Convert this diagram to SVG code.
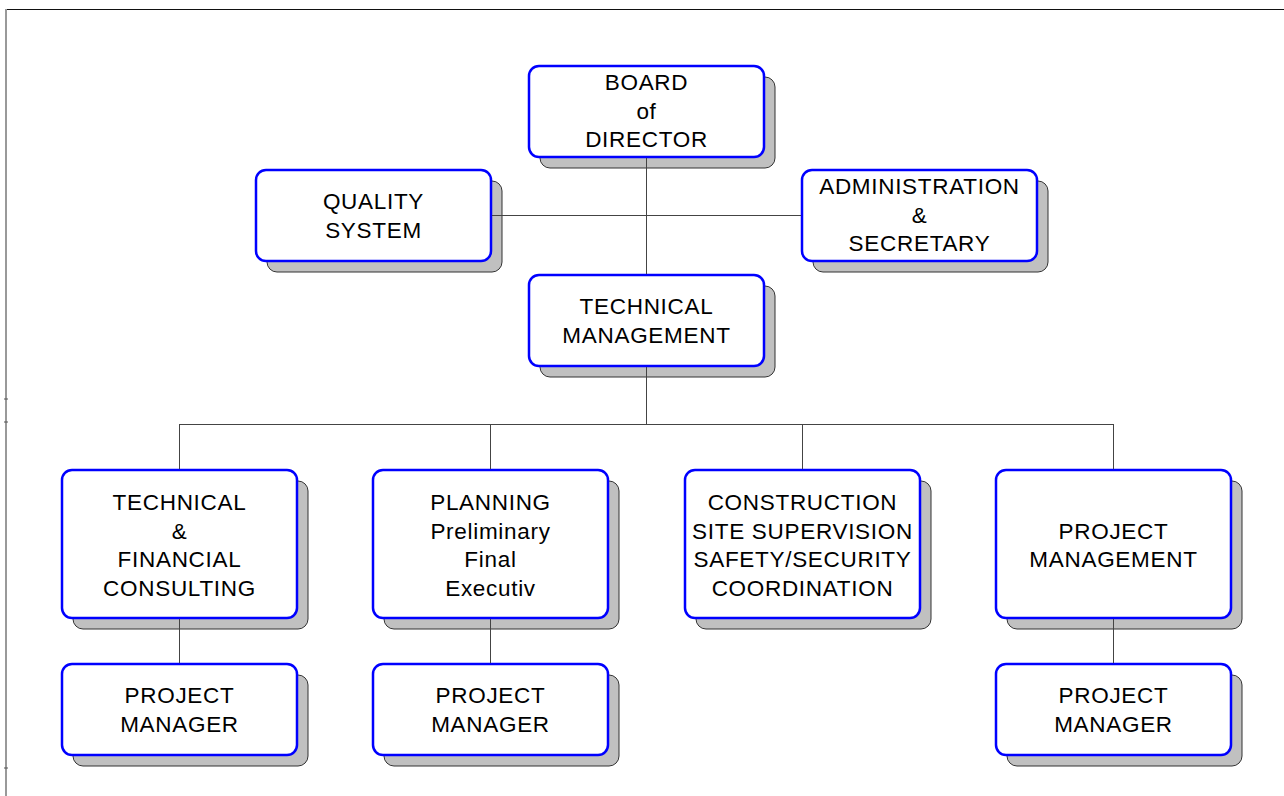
<svg xmlns="http://www.w3.org/2000/svg" width="1284" height="796" viewBox="0 0 1284 796">
<style>
.sh{fill:#c0c0c0;stroke:#333;stroke-width:1}
.bx{fill:#fff;stroke:#0000ff;stroke-width:2.5}
.t{font-family:"Liberation Sans",Arial,sans-serif;font-size:22.5px;letter-spacing:0.7px;fill:#000;text-anchor:middle}
.c{stroke:#444;stroke-width:1;fill:none}
</style>
<rect width="1284" height="796" fill="#fff"/>
<g id="frame">
<line x1="5" y1="9.5" x2="1284" y2="9.5" stroke="#111" stroke-width="1.2"/>
<line x1="6" y1="9" x2="6" y2="796" stroke="#999" stroke-width="2"/>
<line x1="4" y1="399" x2="8" y2="399" stroke="#555"/>
<line x1="4" y1="422" x2="8" y2="422" stroke="#555"/>
<line x1="4" y1="768" x2="8" y2="768" stroke="#555"/>
</g>
<g id="n-board"><rect class="sh" x="540" y="77" width="235" height="91" rx="10"/><rect class="bx" x="529" y="66" width="235" height="91" rx="10"/>
<text class="t" x="646.5" y="90">BOARD</text><text class="t" x="646.5" y="119">of</text><text class="t" x="646.5" y="147">DIRECTOR</text></g>
<g id="n-quality"><rect class="sh" x="267" y="181" width="235" height="91" rx="10"/><rect class="bx" x="256" y="170" width="235" height="91" rx="10"/>
<text class="t" x="373.5" y="209">QUALITY</text><text class="t" x="373.5" y="238">SYSTEM</text></g>
<g id="n-admin"><rect class="sh" x="813" y="181" width="235" height="91" rx="10"/><rect class="bx" x="802" y="170" width="235" height="91" rx="10"/>
<text class="t" x="919.5" y="194">ADMINISTRATION</text><text class="t" x="919.5" y="223">&amp;</text><text class="t" x="919.5" y="251">SECRETARY</text></g>
<g id="n-techman"><rect class="sh" x="540" y="286" width="235" height="91" rx="10"/><rect class="bx" x="529" y="275" width="235" height="91" rx="10"/>
<text class="t" x="646.5" y="314">TECHNICAL</text><text class="t" x="646.5" y="343">MANAGEMENT</text></g>
<g id="n-techfin"><rect class="sh" x="73" y="481" width="235" height="148" rx="10"/><rect class="bx" x="62" y="470" width="235" height="148" rx="10"/>
<text class="t" x="179.5" y="510">TECHNICAL</text><text class="t" x="179.5" y="539">&amp;</text><text class="t" x="179.5" y="567">FINANCIAL</text><text class="t" x="179.5" y="596">CONSULTING</text></g>
<g id="n-planning"><rect class="sh" x="384" y="481" width="235" height="148" rx="10"/><rect class="bx" x="373" y="470" width="235" height="148" rx="10"/>
<text class="t" x="490.5" y="510">PLANNING</text><text class="t" x="490.5" y="539">Preliminary</text><text class="t" x="490.5" y="567">Final</text><text class="t" x="490.5" y="596">Executiv</text></g>
<g id="n-construction"><rect class="sh" x="696" y="481" width="235" height="148" rx="10"/><rect class="bx" x="685" y="470" width="235" height="148" rx="10"/>
<text class="t" x="802.5" y="510">CONSTRUCTION</text><text class="t" x="802.5" y="539">SITE SUPERVISION</text><text class="t" x="802.5" y="567">SAFETY/SECURITY</text><text class="t" x="802.5" y="596">COORDINATION</text></g>
<g id="n-projman"><rect class="sh" x="1007" y="481" width="235" height="148" rx="10"/><rect class="bx" x="996" y="470" width="235" height="148" rx="10"/>
<text class="t" x="1113.5" y="539">PROJECT</text><text class="t" x="1113.5" y="567">MANAGEMENT</text></g>
<g id="n-pm1"><rect class="sh" x="73" y="675" width="235" height="91" rx="10"/><rect class="bx" x="62" y="664" width="235" height="91" rx="10"/>
<text class="t" x="179.5" y="703">PROJECT</text><text class="t" x="179.5" y="732">MANAGER</text></g>
<g id="n-pm2"><rect class="sh" x="384" y="675" width="235" height="91" rx="10"/><rect class="bx" x="373" y="664" width="235" height="91" rx="10"/>
<text class="t" x="490.5" y="703">PROJECT</text><text class="t" x="490.5" y="732">MANAGER</text></g>
<g id="n-pm3"><rect class="sh" x="1007" y="675" width="235" height="91" rx="10"/><rect class="bx" x="996" y="664" width="235" height="91" rx="10"/>
<text class="t" x="1113.5" y="703">PROJECT</text><text class="t" x="1113.5" y="732">MANAGER</text></g>
<g id="connectors">
<line class="c" x1="646.5" y1="158" x2="646.5" y2="274"/>
<line class="c" x1="492" y1="215.5" x2="801" y2="215.5"/>
<line class="c" x1="646.5" y1="367" x2="646.5" y2="424.5"/>
<line class="c" x1="179.5" y1="424.5" x2="1113.5" y2="424.5"/>
<line class="c" x1="179.5" y1="424" x2="179.5" y2="469"/>
<line class="c" x1="490.5" y1="424" x2="490.5" y2="469"/>
<line class="c" x1="802.5" y1="424" x2="802.5" y2="469"/>
<line class="c" x1="1113.5" y1="424" x2="1113.5" y2="469"/>
<line class="c" x1="179.5" y1="619" x2="179.5" y2="663"/>
<line class="c" x1="490.5" y1="619" x2="490.5" y2="663"/>
<line class="c" x1="1113.5" y1="619" x2="1113.5" y2="663"/>
</g>
</svg>
